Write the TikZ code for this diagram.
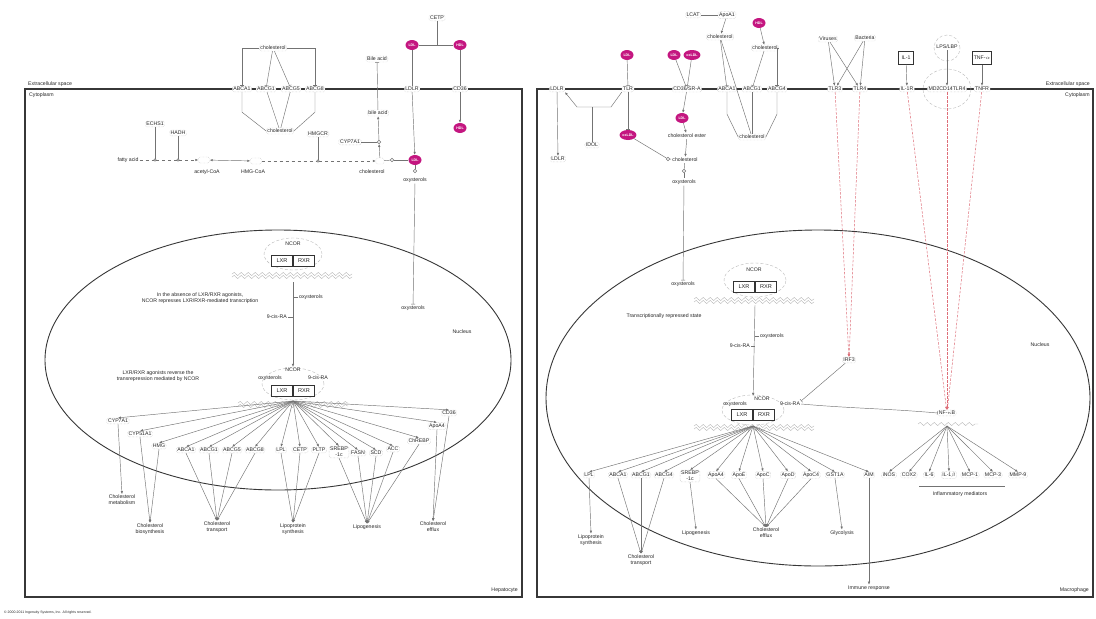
\documentclass[tikz,border=0pt]{standalone}
\usepackage{fontspec}
\setmainfont{Liberation Sans}
\usetikzlibrary{arrows.meta,shapes.geometric,decorations.pathmorphing}
\definecolor{mag}{RGB}{196,22,128}
\definecolor{ln}{RGB}{115,115,115}
\definecolor{mem}{RGB}{55,55,55}
\definecolor{dsh}{RGB}{222,110,120}
\begin{document}
\begin{tikzpicture}[x=1pt,y=-1pt,
  every node/.style={font=\fontsize{5.2}{5.8}\selectfont, inner sep=1pt, text=black!85, align=center},
  gn/.style={draw=gray!50, densely dotted, rounded corners=1.5pt, inner sep=1.1pt, fill=white},
  mg/.style={ellipse, fill=mag, text=white, inner sep=0.4pt, minimum width=13pt, minimum height=10pt, font=\fontsize{3.6}{4}\selectfont\bfseries},
  ring/.style={circle, draw=ln, fill=white, inner sep=0pt, minimum size=3.5pt},
  dot/.style={circle, draw=ln, fill=white, inner sep=0pt, minimum size=2.5pt},
  cn/.style={draw=ln, line width=0.45pt},
  ar/.style={cn, -{Latex[length=3pt,width=2.4pt]}},
  br/.style={cn, -{Bar[width=4pt]}},
  dd/.style={draw=dsh, line width=0.5pt, dash pattern=on 2.5pt off 1.5pt, -{Latex[length=3pt,width=2.4pt]}},
  membrane/.style={draw=mem, line width=1.3pt},
  nuc/.style={draw=mem, line width=0.9pt},
  bx/.style={draw=black!80, inner sep=1.4pt, line width=0.45pt, fill=white, minimum width=21pt, minimum height=11pt, font=\fontsize{5.6}{6}\selectfont},
  lig/.style={draw=black!80, inner sep=1.4pt, line width=0.45pt, fill=white, minimum height=13pt, minimum width=15pt},
  cloudl/.style={draw=gray!55, densely dashed, line width=0.4pt},
  dna/.style={draw=gray!55, line width=0.4pt, decorate, decoration={snake, amplitude=1.6pt, segment length=7pt}},
  oc/.style={inner sep=0.8pt},
]
\fill[white] (0,0) rectangle (1096,619);
\useasboundingbox (0,0) rectangle (1096,619);

% ---------- compartments ----------
\draw[membrane] (25,89) rectangle (522,597);
\draw[membrane] (537,89) rectangle (1093,597);
\draw[nuc] (278,360) ellipse [x radius=233pt, y radius=130pt];
\draw[nuc] (818,398) ellipse [x radius=272pt, y radius=168pt];

\node[anchor=south west] (ecL) at (27,88) {Extracellular space};
\node[anchor=north west] (cyL) at (28,92) {Cytoplasm};
\node[anchor=south east] (hep) at (519,594) {Hepatocyte};
\node[anchor=south east] (ecR) at (1091,88) {Extracellular space};
\node[anchor=north east] (cyR) at (1091,92) {Cytoplasm};
\node[anchor=south east] (mac) at (1090,594) {Macrophage};
\node (nucL) at (462,332) {Nucleus};
\node (nucR) at (1040,345) {Nucleus};
\node[anchor=west, font=\fontsize{3.5}{4}\selectfont] (copy) at (3,613) {© 2000-2011 Ingenuity Systems, Inc. All rights reserved.};

% ================= LEFT: HEPATOCYTE =================
\node[gn] (cholT) at (273,48) {cholesterol};
\node[gn] (abca1) at (242,89) {ABCA1};
\node[gn] (abcg1) at (266,89) {ABCG1};
\node[gn] (abcg5) at (291,89) {ABCG5};
\node[gn] (abcg8) at (315,89) {ABCG8};
\node[gn] (cholB) at (280,131) {cholesterol};
\node[gn] (hmgcr) at (318,134) {HMGCR};
\draw[br] (cholT.west) -| (abca1.north);
\draw[br] (cholT) -- (abcg1);
\draw[br] (cholT) -- (abcg5);
\draw[br] (cholT.east) -| (abcg8.north);
\draw[cn] (abca1.south) -- ++(0,20) -- (cholB.west);
\draw[cn] (abcg1) -- (cholB);
\draw[cn] (abcg5) -- (cholB);
\draw[cn] (abcg8.south) -- ++(0,20) -- (cholB.east);

\node (fa) at (128,160) {fatty acid};
\node[dot] (e1) at (155,160) {};
\node[dot] (e2) at (178,160) {};
\node[gn, minimum width=11pt, minimum height=6pt, inner sep=0pt] (acoa) at (204,160) {};
\node (acoaL) at (207,172) {acetyl-CoA};
\node[gn, minimum width=11pt, minimum height=6pt, inner sep=0pt] (hmgcoa) at (256,161) {};
\node (hmgcoaL) at (253,172) {HMG-CoA};
\node[dot] (e3) at (318,161) {};
\node[gn, minimum width=8pt, minimum height=6pt, inner sep=0pt] (cholC) at (380,161) {};
\node (cholCL) at (372,172) {cholesterol};
\node[gn] (echs1) at (155,124) {ECHS1};
\node[gn] (hadh) at (178,133) {HADH};
\draw[cn, dashed] (fa) -- (e1);
\draw[cn, dashed] (e1) -- (e2);
\draw[cn, dashed, -{Latex[length=3pt,width=2.4pt]}] (e2) -- (acoa);
\draw[cn, {Latex[length=3pt,width=2.4pt]}-{Latex[length=3pt,width=2.4pt]}] (acoa) -- (hmgcoa);
\draw[cn, dashed] (hmgcoa) -- (e3);
\draw[cn, dashed, -{Latex[length=3pt,width=2.4pt]}] (e3) -- (cholC);
\draw[cn] (echs1) -- (e1);
\draw[cn] (hadh) -- (e2);
\draw[cn] (hmgcr) -- (e3);

\node[gn] (bileO) at (377,59) {Bile acid};
\node[gn] (bileI) at (378,113) {bile acid};
\node[gn] (cyp7a1) at (350,142) {CYP7A1};
\node[ring] (r0) at (379,142) {};
\draw[ar] (cholC) -- (r0);
\draw[ar] (r0) -- (bileI);
\draw[br] (bileI) -- (bileO);
\draw[cn] (cyp7a1) -- (r0);

\node[gn] (cetp) at (437,18) {CETP};
\node[mg] (ldl1) at (412,45) {LDL};
\node[mg] (hdl1) at (460,45) {HDL};
\coordinate (cetpT) at (437,45);
\node[gn] (ldlr) at (412,89) {LDLR};
\node[gn] (cd36) at (460,89) {CD36};
\node[mg] (hdl2) at (460,128) {HDL};
\node[mg] (ldl2) at (415,160) {LDL};
\node[ring] (r1) at (392,160) {};
\node[ring] (r2) at (415,171) {};
\node (oxyC) at (415,180) {oxysterols};
\node (oxyN) at (413,308) {oxysterols};
\draw[cn] (ldl1) -- (hdl1);
\draw[cn] (cetp) -- (cetpT);
\draw[cn] (ldl1) -- (ldlr);
\draw[cn] (hdl1) -- (cd36);
\draw[ar] (cd36) -- (hdl2);
\draw[ar] (ldlr) -- (ldl2);
\draw[cn] (cholC) -- (r1);
\draw[cn] (r1) -- (ldl2);
\draw[cn] (ldl2) -- (r2);
\draw[br] (oxyC) -- (oxyN);

% NCOR complex (repressed)
\draw[cloudl] (293,254) ellipse [x radius=29pt, y radius=16pt];
\draw[dna] (232,274) -- (352,274);
\draw[dna] (232,277) -- (352,277);
\node (ncor1) at (293,244) {NCOR};
\node[bx] (lxr1) at (282,261) {LXR};
\node[bx] (rxr1) at (304,261) {RXR};
\node (t1) at (200,298) {In the absence of LXR/RXR agonists,\\NCOR represses LXR/RXR-mediated transcription};
\node[anchor=west] (ox1) at (298,297) {oxysterols};
\node[anchor=east] (ra1) at (288,317) {9-cis-RA};
\coordinate (ox1c) at (293,297);
\coordinate (ra1c) at (293,317);
\draw[cn] (ox1.west) -- (ox1c);
\draw[cn] (ra1.east) -- (ra1c);

% NCOR complex (active)
\draw[cloudl] (293,384) ellipse [x radius=31pt, y radius=16pt];
\draw[dna] (238,403) -- (348,403);
\draw[dna] (238,406) -- (348,406);
\node (ncor2) at (293,370) {NCOR};
\node (oxs2) at (270,378) {oxysterols};
\node (ra2) at (318,378) {9-cis-RA};
\node[bx] (lxr2) at (282,391) {LXR};
\node[bx] (rxr2) at (304,391) {RXR};
\coordinate (c1b) at (293,282);
\draw[ar] (c1b) -- (ncor2.north);
\node (t2) at (158,376) {LXR/RXR agonists reverse the\\transrepression mediated by NCOR};
\coordinate (f1) at (293,401);

% left targets
\node[gn] (cyp7a1b) at (118,421) {CYP7A1};
\node[gn] (cyp51) at (140,434) {CYP51A1};
\node[gn] (hmgb) at (159,446) {HMG};
\node[gn] (abca1b) at (186,450) {ABCA1};
\node[gn] (abcg1b) at (209,450) {ABCG1};
\node[gn] (abcg5b) at (232,450) {ABCG5};
\node[gn] (abcg8b) at (255,450) {ABCG8};
\node[gn] (lplb) at (281,450) {LPL};
\node[gn] (cetpb) at (300,450) {CETP};
\node[gn] (pltpb) at (319,450) {PLTP};
\node[gn] (srebpb) at (339,452) {SREBP\\-1c};
\node[gn] (fasnb) at (358,453) {FASN};
\node[gn] (scdb) at (376,453) {SCD};
\node[gn] (accb) at (393,449) {ACC};
\node[gn] (chrebpb) at (419,441) {ChREBP};
\node[gn] (apoa4b) at (437,426) {ApoA4};
\node[gn] (cd36b) at (449,413) {CD36};
\foreach \t in {cyp7a1b,cyp51,hmgb,abca1b,abcg1b,abcg5b,abcg8b,lplb,cetpb,pltpb,srebpb,fasnb,scdb,accb,chrebpb,apoa4b,cd36b}
  \draw[ar] (f1) -- (\t.north);

% left outcomes
\node[oc] (chM) at (122,500) {Cholesterol\\metabolism};
\node[oc] (chB) at (150,529) {Cholesterol\\biosynthesis};
\node[oc] (chT) at (217,527) {Cholesterol\\transport};
\node[oc] (lpS) at (293,529) {Lipoprotein\\synthesis};
\node[oc] (lpg) at (367,527) {Lipogenesis};
\node[oc] (chE) at (433,527) {Cholesterol\\efflux};
\foreach \s/\t in {cyp7a1b/chM,cyp51/chB,hmgb/chB,abca1b/chT,abcg1b/chT,abcg5b/chT,abcg8b/chT,lplb/lpS,cetpb/lpS,pltpb/lpS,srebpb/lpg,fasnb/lpg,scdb/lpg,accb/lpg,chrebpb/lpg,apoa4b/chE,cd36b/chE}
  \draw[ar] (\s.south) -- (\t.north);

% ================= RIGHT: MACROPHAGE =================
\node[gn] (ldlrR) at (557,89) {LDLR};
\node[gn] (tlr) at (628,89) {TLR};
\node[gn] (cd36R) at (687,89) {CD36/SR-A};
\node[gn] (abca1R) at (727,89) {ABCA1};
\node[gn] (abcg1R) at (752,89) {ABCG1};
\node[gn] (abcg4R) at (777,89) {ABCG4};
\node[gn] (idol) at (592,145) {IDOL};
\node[gn] (ldlrR2) at (558,159) {LDLR};
\node[mg] (m1) at (627,55) {LDL};
\node[mg] (m2) at (674,55) {LDL};
\node[mg] (m3) at (692,55) {oxLDL};
\node[mg] (m4) at (682,118) {LDL};
\node[mg] (m5) at (628,135) {oxLDL};
\node[mg] (m6) at (759,23) {HDL};
\node[gn] (lcat) at (693,15) {LCAT};
\node[gn] (apoa1R) at (727,15) {ApoA1};
\node[gn] (cholA) at (720,37) {cholesterol};
\node[gn] (cholB2) at (765,48) {cholesterol};
\node (cholE) at (687,136) {cholesterol ester};
\node[ring] (rr1) at (668,159) {};
\node (cholR) at (685,160) {cholesterol};
\node[ring] (rr2) at (684,171) {};
\node (oxyR) at (684,182) {oxysterols};
\node[gn] (cholX) at (752,137) {cholesterol};
\node (oxyN2) at (683,284) {oxysterols};

\coordinate (k1) at (611,107);
\coordinate (k2) at (577,107);
\coordinate (k3) at (592,107);
\draw[ar] (tlr.south west) -- (k1) -- (k2) -- (ldlrR.south east);
\draw[cn] (idol) -- (k3);
\draw[ar] (ldlrR) -- (ldlrR2);
\draw[br] (m1) -- (tlr);
\draw[br] (tlr) -- (m5);
\draw[cn] (m5) -- (rr1);
\draw[cn] (rr1) -- (cholR);
\draw[br] (m2) -- (cd36R);
\draw[br] (m3) -- (cd36R);
\draw[ar] (cd36R) -- (m4);
\draw[ar] (m4) -- (cholE);
\draw[ar] (cholE) -- (cholR);
\draw[cn] (cholR) -- (rr2);
\draw[cn] (rr2) -- (oxyR);
\draw[br] (oxyR) -- (oxyN2);
\draw[cn] (lcat) -- (apoa1R);
\draw[ar] (apoa1R) -- (cholA);
\draw[br] (cholA) -- (abca1R);
\draw[cn] (cholA) -- (cholX);
\draw[ar] (m6) -- (cholB2);
\draw[br] (cholB2) -- (abcg1R);
\draw[br] (cholB2.east) -| (abcg4R.north);
\draw[cn] (abca1R.south) -- ++(0,22) -- (cholX.west);
\draw[cn] (abcg1R) -- (cholX);
\draw[cn] (abcg4R.south) -- ++(0,22) -- (cholX.east);

% receptors
\node[gn] (vir) at (828,39) {Viruses};
\node[gn] (bac) at (865,38) {Bacteria};
\node[gn] (tlr3) at (835,89) {TLR3};
\node[gn] (tlr4) at (860,89) {TLR4};
\node[lig] (il1) at (906,58) {IL-1};
\node[gn] (il1r) at (907,89) {IL-1R};
\draw[cloudl] (947,89) ellipse [x radius=24pt, y radius=20pt];
\draw[cloudl] (947,48) circle [radius=13pt];
\node (lps) at (947,47) {LPS/LBP};
\node[gn] (md2) at (947,89) {MD2CD14TLR4};
\node[lig] (tnfa) at (982,58) {TNF-$\alpha$};
\node[gn] (tnfr) at (982,89) {TNFR};
\draw[ar] (vir) -- (tlr3);
\draw[ar] (vir) -- (tlr4);
\draw[ar] (bac) -- (tlr3);
\draw[ar] (bac) -- (tlr4);
\draw[ar] (il1) -- (il1r);
\draw[ar] (lps) -- (md2);
\draw[ar] (tnfa) -- (tnfr);

% right upper complex
\draw[cloudl] (755,280) ellipse [x radius=31pt, y radius=17pt];
\draw[dna] (694,299) -- (814,299);
\draw[dna] (694,302) -- (814,302);
\node (ncor3) at (754,270) {NCOR};
\node[bx] (lxr3) at (744,287) {LXR};
\node[bx] (rxr3) at (766,287) {RXR};
\node (t3) at (664,316) {Transcriptionally repressed state};
\node[anchor=west] (ox3) at (759,336) {oxysterols};
\node[anchor=east] (ra3) at (751,346) {9-cis-RA};
\coordinate (ox3c) at (755,336);
\coordinate (ra3c) at (755,346);
\draw[cn] (ox3.west) -- (ox3c);
\draw[cn] (ra3.east) -- (ra3c);
\coordinate (c3b) at (755,305);

% right lower complex
\draw[cloudl] (753,410) ellipse [x radius=31pt, y radius=15pt];
\draw[dna] (694,426) -- (814,426);
\draw[dna] (694,429) -- (814,429);
\node (ncor4) at (762,399) {NCOR};
\node (oxs4) at (735,404) {oxysterols};
\node (ra4) at (790,404) {9-cis-RA};
\node[bx] (lxr4) at (742,415) {LXR};
\node[bx] (rxr4) at (764,415) {RXR};
\draw[ar] (c3b) -- (ncor4.north west);
\node[gn] (irf3) at (849,360) {IRF3};
\node[gn] (nfkb) at (947,413) {NF-$\kappa$B};
\draw[dna] (918,424) -- (978,424);
\draw[br] (irf3) -- (ra4.north east);
\draw[br] (ra4.east) to[out=-5,in=175] (nfkb.west);
\draw[dd] (tlr3) -- (irf3);
\draw[dd] (tlr4) -- (irf3);
\draw[dd] (il1r) -- (nfkb);
\draw[dd] (md2) -- (nfkb);
\draw[dd] (tnfr) -- (nfkb);
\coordinate (f2) at (753,426);
\coordinate (f3) at (947,426);

% right targets
\node[gn] (lplR) at (589,475) {LPL};
\node[gn] (abca1T) at (618,475) {ABCA1};
\node[gn] (abcg1T) at (641,475) {ABCG1};
\node[gn] (abcg4T) at (664,475) {ABCG4};
\node[gn] (srebpR) at (690,476) {SREBP\\-1c};
\node[gn] (apoa4R) at (716,475) {ApoA4};
\node[gn] (apoeR) at (739,475) {ApoE};
\node[gn] (apocR) at (763,475) {ApoC};
\node[gn] (apodR) at (788,475) {ApoD};
\node[gn] (apoc4R) at (811,475) {ApoC4};
\node[gn] (gstR) at (835,475) {GST1A};
\node[gn] (aimR) at (869,475) {AIM};
\node[gn] (inos) at (889,475) {iNOS};
\node[gn] (cox2) at (909,475) {COX2};
\node[gn] (il6) at (929,475) {IL-6};
\node[gn] (il1b) at (949,475) {IL-1$\beta$};
\node[gn] (mcp1) at (970,475) {MCP-1};
\node[gn] (mcp3) at (993,475) {MCP-3};
\node[gn] (mmp9) at (1018,475) {MMP-9};
\foreach \t in {lplR,abca1T,abcg1T,abcg4T,srebpR,apoa4R,apoeR,apocR,apodR,apoc4R,gstR,aimR}
  \draw[ar] (f2) -- (\t.north);
\foreach \t in {inos,cox2,il6,il1b,mcp1,mcp3,mmp9}
  \draw[ar] (f3) -- (\t.north);
\node (infl) at (960,494) {Inflammatory mediators};
\coordinate (bl) at (919,486);
\coordinate (brr) at (1005,486);
\draw[cn] (bl) -- (brr);

% right outcomes
\node[oc] (lpS2) at (591,540) {Lipoprotein\\synthesis};
\node[oc] (chT2) at (641,560) {Cholesterol\\transport};
\node[oc] (lpg2) at (696,533) {Lipogenesis};
\node[oc] (chE2) at (766,533) {Cholesterol\\efflux};
\node[oc] (gly) at (842,533) {Glycolysis};
\node[oc] (imm) at (869,588) {Immune response};
\foreach \s/\t in {lplR/lpS2,abca1T/chT2,abcg1T/chT2,abcg4T/chT2,srebpR/lpg2,apoa4R/chE2,apoeR/chE2,apocR/chE2,apodR/chE2,apoc4R/chE2,gstR/gly,aimR/imm}
  \draw[ar] (\s.south) -- (\t.north);
\end{tikzpicture}
\end{document}
